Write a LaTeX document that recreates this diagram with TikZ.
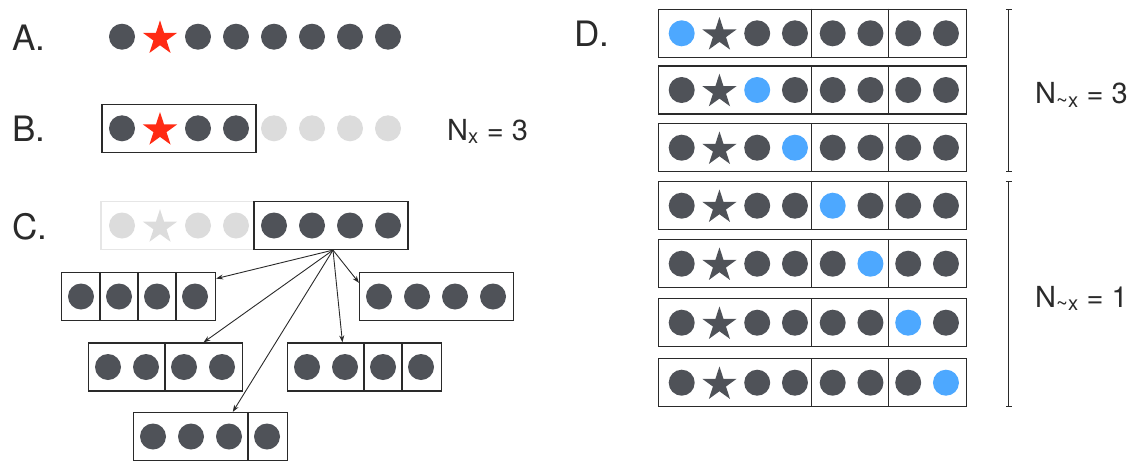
\documentclass[tikz,border=0pt]{standalone}
\usepackage{fontspec}
\setmainfont{TeX Gyre Heros}
\usetikzlibrary{shapes.geometric, arrows.meta, positioning, calc}
\definecolor{dotgray}{HTML}{4F5258}
\definecolor{fadegray}{HTML}{DCDCDC}
\definecolor{fadeline}{HTML}{E6E6E6}
\definecolor{hitred}{HTML}{FF2B14}
\definecolor{pickblue}{HTML}{4DA8FF}
\definecolor{inkgray}{HTML}{2A2A2A}

\tikzset{
    ball/.style={circle, fill=dotgray, inner sep=0pt, minimum size=26pt},
    ghost/.style={ball, fill=fadegray},
    pick/.style={ball, fill=pickblue},
    pentastar/.style={star, star points=5, star point ratio=2.618, fill=dotgray, inner sep=0pt, minimum size=36pt, yshift=-1.7pt},
    setbox/.style={draw=inkgray, line width=1.2pt, minimum width=154pt, minimum height=48pt, inner sep=0pt},
    rowbox/.style={setbox, minimum width=308pt},
    cut/.style={draw=inkgray, line width=1.2pt},
    split/.style={-{Stealth[length=7pt,width=5pt]}, line width=0.9pt, draw=inkgray},
    span/.style={{Bar[width=6pt]}-{Bar[width=6pt]}, line width=1pt, draw=inkgray},
    panel/.style={anchor=base west, inner sep=0pt, text=inkgray, font=\fontsize{35}{40}\selectfont},
    ncount/.style={anchor=base west, inner sep=0pt, text=inkgray, font=\fontsize{29}{34}\selectfont}
}

\begin{document}
\begin{tikzpicture}[x=1pt, y=-1pt]
    \useasboundingbox (0,0) rectangle (1130,461);
    % Panel letters
    \node[panel] (labA) at (12,50) {A.};
    \node[panel] (labB) at (12,141.7) {B.};
    \node[panel] (labC) at (12,239) {C.};
    \node[panel] (labD) at (574,46.7) {D.};

    % A: all features
    \foreach \k in {0,2,3,4,5,6,7}
        \node[ball] (a\k) at ({122+38*\k},36.7) {};
    \node[pentastar, fill=hitred] (a1) at (160,36.7) {};

    % B: window round the target
    \node[setbox] (bset) at (179,128.3) {};
    \foreach \k in {0,2,3}
        \node[ball] (b\k) at ({122+38*\k},128.3) {};
    \node[pentastar, fill=hitred] (b1) at (160,128.3) {};
    \foreach \k in {4,...,7}
        \node[ghost] (b\k) at ({122+38*\k},128.3) {};
    \node[ncount] (nx) at (447,140) {N\textsubscript{x} = 3};

    % C: the other features
    \node[setbox, draw=fadeline, minimum width=307pt] (cfull) at (254.5,225.5) {};
    \foreach \k in {0,2,3}
        \node[ghost] (c\k) at ({122+38*\k},225.5) {};
    \node[pentastar, fill=fadegray] (c1) at (160,225.5) {};
    \node[setbox] (cset) at (331,225.5) {};
    \foreach \k in {4,...,7}
        \node[ball] (c\k) at ({122+38*\k},225.5) {};

    % C: partitions of the window
    \foreach \n/\x/\y in {subA/61/296.5, subB/359/296.5, subC/88/367, subD/287/367, subE/133/436.5} {
        \node[setbox, anchor=west] (\n) at (\x,\y) {};
        \foreach \k in {0,...,3}
            \node[ball] at ({\x+20+38*\k},\y) {};
    }
    \foreach \n/\k [evaluate=\k as \dx using 1+38*\k] in {subA/1, subA/2, subA/3, subC/2, subD/2, subD/3, subE/3}
        \draw[cut] ([xshift=\dx pt]\n.north west) -- ([xshift=\dx pt]\n.south west);
    \foreach \t/\a in {subA/13, subB/170, subC/33, subD/132, subE/48}
        \draw[split] ([xshift=2pt]cset.south) -- (\t.\a);

    % D: one blue feature per row
    \foreach \r/\y/\b in {1/33.3/0, 2/90/2, 3/147.7/3, 4/205.7/4, 5/263.7/5, 6/322.7/6, 7/382.7/7} {
        \node[rowbox] (drow\r) at (812.3,\y) {};
        \foreach \k in {0,2,3,4,5,6,7} {
            \ifnum\k=\b
                \node[pick] at ({681.7+37.75*\k},\y) {};
            \else
                \node[ball] at ({681.7+37.75*\k},\y) {};
            \fi
        }
        \node[pentastar] at (719.45,\y) {};
        \draw[cut] ([xshift=154pt]drow\r.north west) -- ([xshift=154pt]drow\r.south west);
        \draw[cut] ([xshift=231pt]drow\r.north west) -- ([xshift=231pt]drow\r.south west);
    }

    % D: brackets and counts
    \draw[span] ([xshift=42pt]drow1.north east) -- ([xshift=42pt]drow3.south east);
    \draw[span] ([xshift=42pt]drow4.north east) -- ([xshift=42pt]drow7.south east);
    \node[ncount] (nnot3) at (1035,103.3) {N\textsubscript{\textasciitilde x} = 3};
    \node[ncount] (nnot1) at (1035,307) {N\textsubscript{\textasciitilde x} = 1};
\end{tikzpicture}
\end{document}
